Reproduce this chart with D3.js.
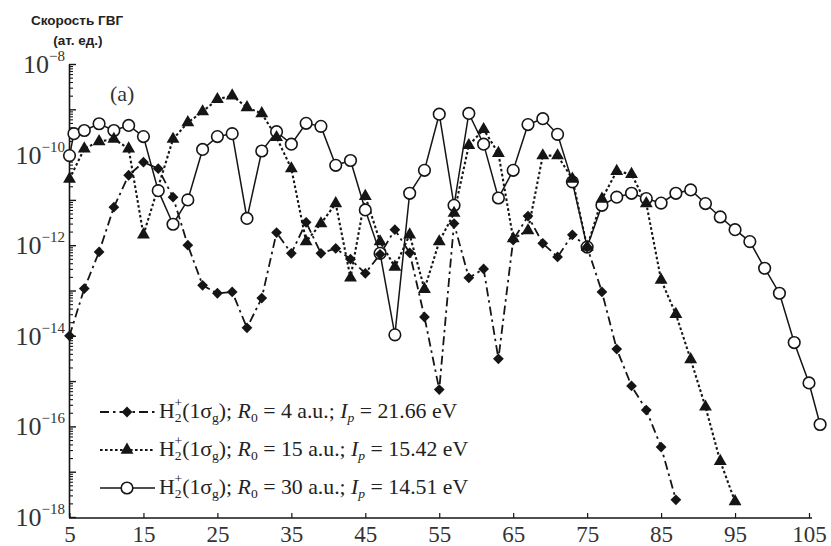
<!DOCTYPE html>
<html>
<head>
<meta charset="utf-8">
<script src="https://cdn.jsdelivr.net/npm/d3@7/dist/d3.min.js"></script>
<style>
  body { margin: 0; background: #fff; }
  svg { display: block; }
</style>
</head>
<body>
<svg id="chart"></svg>
<script>
// ---- data ----
// R0 = 4 a.u. (diamonds, dash-dot)
const xD = [5, 7, 9, 11, 13, 15, 17, 19, 21, 23, 25, 27, 29, 31, 33, 35, 37, 39, 41, 43, 45, 47, 49,
            51, 53, 55, 57, 59, 61, 63, 65, 67, 69, 71, 73, 75, 77, 79, 81, 83, 85, 87];
const vD = [1.0e-14, 1.1e-13, 7.1e-13, 6.9e-12, 3.5e-11, 6.8e-11, 4.9e-11, 1.15e-11, 1.0e-12, 1.3e-13,
            8.7e-14, 9.3e-14, 1.5e-14, 6.8e-14, 1.9e-12, 6.6e-13, 3.2e-12, 6.6e-13, 8.5e-13, 4.9e-13,
            2.4e-13, 6.3e-13, 2.2e-12, 6.8e-13, 2.6e-14, 6.5e-16, 3.0e-12, 1.9e-13, 3.0e-13, 3.1e-15,
            1.3e-12, 4.4e-12, 1.1e-12, 5.5e-13, 1.7e-12, 9.1e-13, 9.3e-14, 5.1e-15, 7.8e-16, 2.3e-16,
            3.5e-17, 2.4e-18];

// R0 = 15 a.u. (triangles, dotted)
const xT = [5, 7, 9, 11, 13, 15, 19, 21, 23, 25, 27, 29, 31, 33, 35, 37, 39, 41, 43, 45, 47, 49, 51,
            53, 55, 57, 59, 61, 63, 65, 67, 69, 71, 73, 75, 77, 79, 81, 83, 85, 87, 89, 91, 93, 95];
const vT = [2.9e-11, 1.35e-10, 1.95e-10, 2.2e-10, 1.35e-10, 1.7e-12, 2.2e-10, 5.1e-10, 8.9e-10, 1.66e-9,
            2.0e-9, 1.1e-9, 8.1e-10, 2.4e-10, 4.9e-11, 1.2e-12, 3.0e-12, 8.3e-12, 1.9e-13, 1.2e-11,
            1.2e-12, 3.3e-13, 1.7e-12, 1.07e-13, 1.2e-12, 5.1e-12, 1.6e-10, 3.6e-10, 1.07e-10, 1.4e-12,
            2.1e-12, 9.5e-11, 9.5e-11, 2.9e-11, 9.1e-13, 1.05e-11, 4.3e-11, 3.7e-11, 8.3e-12, 1.7e-13,
            3.0e-14, 3.0e-15, 2.7e-16, 1.7e-17, 2.2e-18];

// R0 = 30 a.u. (open circles, solid)
const xC = [5, 5.6, 7, 9, 11, 13, 15, 17, 19, 21, 23, 25, 27, 29, 31, 33, 35, 37, 39, 41, 43, 45, 47,
            49, 51, 53, 55, 57, 59, 61, 63, 65, 67, 69, 71, 73, 75, 77, 79, 81, 83, 85, 87, 89, 91,
            93, 95, 97, 99, 101, 103, 105, 106.5];
const vC = [9.5e-11, 2.9e-10, 3.4e-10, 4.8e-10, 3.4e-10, 4.4e-10, 2.5e-10, 1.6e-11, 2.9e-12, 1.0e-11,
            1.3e-10, 2.5e-10, 2.9e-10, 3.9e-12, 1.2e-10, 3.2e-10, 1.7e-10, 4.9e-10, 4.2e-10, 5.8e-11,
            7.4e-11, 6.0e-12, 6.6e-13, 1.05e-14, 1.4e-11, 4.5e-11, 7.8e-10, 7.6e-12, 8.1e-10, 1.7e-10,
            1.1e-11, 4.5e-11, 4.6e-10, 6.2e-10, 2.8e-10, 2.5e-11, 9.1e-13, 7.6e-12, 1.15e-11, 1.4e-11,
            1.07e-11, 8.5e-12, 1.4e-11, 1.66e-11, 8.3e-12, 4.2e-12, 2.2e-12, 1.2e-12, 3.1e-13, 8.7e-14,
            7.1e-15, 9.1e-16, 1.1e-16];

const xTicks = [5, 15, 25, 35, 45, 55, 65, 75, 85, 95, 105];
const yLabelExps = [-8, -10, -12, -14, -16, -18];
const legendRows = [
  {r0: "4", ip: "21.66"},
  {r0: "15", ip: "15.42"},
  {r0: "30", ip: "14.51"}
];

// ---- chart ----
const W = 831, H = 546;
const ink = "#151515";
const serif = "'Liberation Serif', 'Times New Roman', serif";
const svg = d3.select("#chart").attr("width", W).attr("height", H);

const x = d3.scaleLinear().domain([5, 105]).range([69.5, 809]);
const y = d3.scaleLog().domain([1e-18, 1e-8]).range([517, 64]);

// title
svg.append("text")
  .attr("x", 77).attr("y", 25)
  .attr("text-anchor", "middle")
  .attr("font-family", "'Liberation Sans', Arial, sans-serif")
  .attr("font-weight", "bold").attr("font-size", 13.5)
  .attr("fill", "#222")
  .text("Скорость ГВГ");
svg.append("text")
  .attr("x", 78).attr("y", 45)
  .attr("text-anchor", "middle")
  .attr("font-family", "'Liberation Sans', Arial, sans-serif")
  .attr("font-weight", "bold").attr("font-size", 13.5)
  .attr("fill", "#222")
  .text("(ат. ед.)");

// y axis: major + minor ticks pointing inward
const majors = d3.range(-18, -7).map(e => Math.pow(10, e));
const minors = [];
d3.range(-18, -8).forEach(e => {
  for (let k = 2; k <= 9; k++) minors.push(k * Math.pow(10, e));
});

svg.append("g")
  .attr("transform", "translate(69,0)")
  .call(d3.axisRight(y).tickValues(minors).tickSize(4).tickFormat("").tickSizeOuter(0))
  .call(g => g.selectAll("line").attr("stroke", ink).attr("stroke-width", 1.1));
svg.append("g")
  .attr("transform", "translate(69,0)")
  .call(d3.axisRight(y).tickValues(majors).tickSize(7).tickFormat("").tickSizeOuter(0))
  .call(g => g.select(".domain").attr("stroke", ink).attr("stroke-width", 1.6))
  .call(g => g.selectAll("line").attr("stroke", ink).attr("stroke-width", 1.4));

// y labels 10^n
const yl = svg.append("g");
yLabelExps.forEach(e => {
  const t = yl.append("text")
    .attr("x", 65).attr("y", y(Math.pow(10, e)) + 9)
    .attr("text-anchor", "end")
    .attr("font-family", serif)
    .attr("fill", "#333");
  t.append("tspan").attr("font-size", 26).text("10");
  t.append("tspan").attr("font-size", 15).attr("dy", -12).text("\u2212" + (-e));
});

// x axis
svg.append("g")
  .attr("transform", "translate(0,518)")
  .call(d3.axisBottom(x).tickValues(xTicks).tickSize(-5).tickSizeOuter(0).tickPadding(8))
  .call(g => g.select(".domain").attr("stroke", ink).attr("stroke-width", 1.6).attr("d", "M69,0H812"))
  .call(g => g.selectAll("line").attr("stroke", ink).attr("stroke-width", 1.2))
  .call(g => g.selectAll("text")
    .attr("font-family", serif).attr("font-size", 23).attr("fill", "#333"));

// panel label
svg.append("text")
  .attr("x", 110).attr("y", 101)
  .attr("font-family", serif).attr("font-size", 22).attr("fill", "#333")
  .text("(a)");

// series
const series = [
  {xs: xC, vs: vC, dash: null, width: 1.5, marker: "circle"},
  {xs: xT, vs: vT, dash: "2.6,2.4", width: 2.1, marker: "triangle"},
  {xs: xD, vs: vD, dash: "9,4,2.5,4", width: 1.8, marker: "diamond"}
];

const line = d3.line().x(d => x(d[0])).y(d => y(d[1]));

function drawMarker(g, type, px, py) {
  if (type === "circle") {
    g.append("circle").attr("cx", px).attr("cy", py).attr("r", 5.8)
      .attr("fill", "#fff").attr("stroke", ink).attr("stroke-width", 1.6);
  } else if (type === "triangle") {
    g.append("path").attr("transform", `translate(${px},${py})`)
      .attr("d", d3.symbol(d3.symbolTriangle, 72)())
      .attr("fill", ink);
  } else {
    g.append("path").attr("transform", `translate(${px},${py}) rotate(45)`)
      .attr("d", d3.symbol(d3.symbolSquare, 58)())
      .attr("fill", ink);
  }
}

const lineLayer = svg.append("g");
const markLayer = svg.append("g");
series.forEach(s => {
  const pts = s.xs.map((v, i) => [v, s.vs[i]]);
  lineLayer.append("path")
    .datum(pts)
    .attr("d", line)
    .attr("fill", "none")
    .attr("stroke", ink)
    .attr("stroke-width", s.width)
    .attr("stroke-dasharray", s.dash);
  const g = markLayer.append("g");
  pts.forEach(p => drawMarker(g, s.marker, x(p[0]), y(p[1])));
});

// legend
const legendY = [412, 450, 488];
const legendStyle = [series[2], series[1], series[0]];
legendRows.forEach((r, i) => {
  const ly = legendY[i];
  const s = legendStyle[i];
  const lg = svg.append("g");
  lg.append("line").attr("x1", 100).attr("x2", 155).attr("y1", ly).attr("y2", ly)
    .attr("stroke", ink).attr("stroke-width", s.width).attr("stroke-dasharray", s.dash);
  drawMarker(lg, s.marker, 127, ly);

  // the scan is a bit wider than the font, so stretch the text horizontally
  const t = lg.append("text")
    .attr("transform", `translate(159,${ly + 6}) scale(1.09,1)`)
    .attr("font-family", serif).attr("font-size", 20).attr("fill", "#222");
  t.append("tspan").text("H");
  t.append("tspan").attr("font-size", 12.5).attr("dy", 4).text("2");
  t.append("tspan").attr("font-size", 12.5).attr("dx", -6.5).attr("dy", -15).text("+");
  t.append("tspan").attr("dy", 11).text("(1σ");
  t.append("tspan").attr("font-size", 12.5).attr("dy", 4).text("g");
  t.append("tspan").attr("dy", -4).text("); ");
  t.append("tspan").attr("font-style", "italic").text("R");
  t.append("tspan").attr("font-size", 12.5).attr("dy", 4).text("0");
  t.append("tspan").attr("dy", -4).text(` = ${r.r0} a.u.; `);
  t.append("tspan").attr("font-style", "italic").text("I");
  t.append("tspan").attr("font-size", 12.5).attr("font-style", "italic").attr("dy", 4).text("p");
  t.append("tspan").attr("dy", -4).text(` = ${r.ip} eV`);
});
</script>
</body>
</html>
